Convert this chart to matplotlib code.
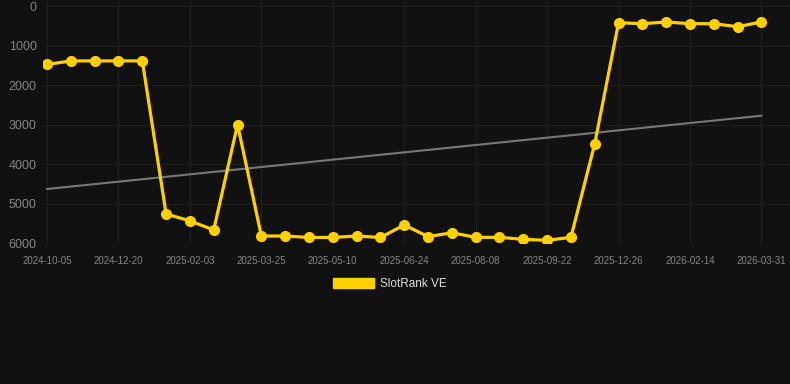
import numpy as np
import matplotlib
matplotlib.use("Agg")
import matplotlib.pyplot as plt
from matplotlib.patches import Patch

plt.rcParams['font.family'] = ['Liberation Sans', 'DejaVu Sans']

dates = ["2024-10-05", "2024-10-30", "2024-11-24", "2024-12-20", "2025-01-04",
         "2025-01-19", "2025-02-03", "2025-02-16", "2025-03-02", "2025-03-25",
         "2025-04-09", "2025-04-24", "2025-05-10", "2025-05-25", "2025-06-09",
         "2025-06-24", "2025-07-09", "2025-07-24", "2025-08-08", "2025-08-23",
         "2025-09-07", "2025-09-22", "2025-10-20", "2025-11-25", "2025-12-26",
         "2026-01-09", "2026-01-28", "2026-02-14", "2026-02-28", "2026-03-15",
         "2026-03-31"]
ranks = [1480, 1390, 1390, 1390, 1390, 5266, 5440, 5670, 3000, 5823,
         5823, 5860, 5860, 5823, 5860, 5544, 5840, 5740, 5857, 5857,
         5907, 5932, 5857, 3486, 423, 448, 405, 448, 448, 524, 405]
trend_start = 4633
trend_end = 2777
series_name = "SlotRank VE"

bg = "#111111"
gold = "#FFD000"

fig = plt.figure(figsize=(7.9, 3.84), dpi=100, facecolor=bg)
ax = fig.add_axes([43 / 790, 1 - 243 / 384, 747 / 790, 243 / 384])
ax.set_facecolor(bg)

x = np.arange(len(ranks))
ax.plot([x[0], x[-1]], [trend_start, trend_end], color="#777777", lw=1.5, zorder=2)
ax.plot(x, ranks, color=gold, lw=2.3, marker="o", ms=7, zorder=3)

ax.set_xlim(-0.17, 31.2)
ax.set_ylim(6000, -152)
ax.set_yticks([0, 1000, 2000, 3000, 4000, 5000, 6000])
ticks = x[::3]
ax.set_xticks(ticks)
ax.set_xticklabels([dates[i] for i in ticks])

ax.grid(True, color="#202020", lw=0.8)
for s in ax.spines.values():
    s.set_visible(False)
ax.tick_params(axis="y", length=0, colors="#858585", labelsize=9, pad=4.5)
ax.tick_params(axis="x", length=0, colors="#858585", labelsize=7, pad=9)

fig.legend(handles=[Patch(facecolor=gold, edgecolor=gold, label=series_name)],
           loc="center", bbox_to_anchor=(390 / 790, 1 - 284 / 384), frameon=False,
           handlelength=3.5, handleheight=1.0, handletextpad=0.5,
           fontsize=8.5, labelcolor="#dddddd")

fig.savefig("out.png", dpi=100, facecolor=bg)
